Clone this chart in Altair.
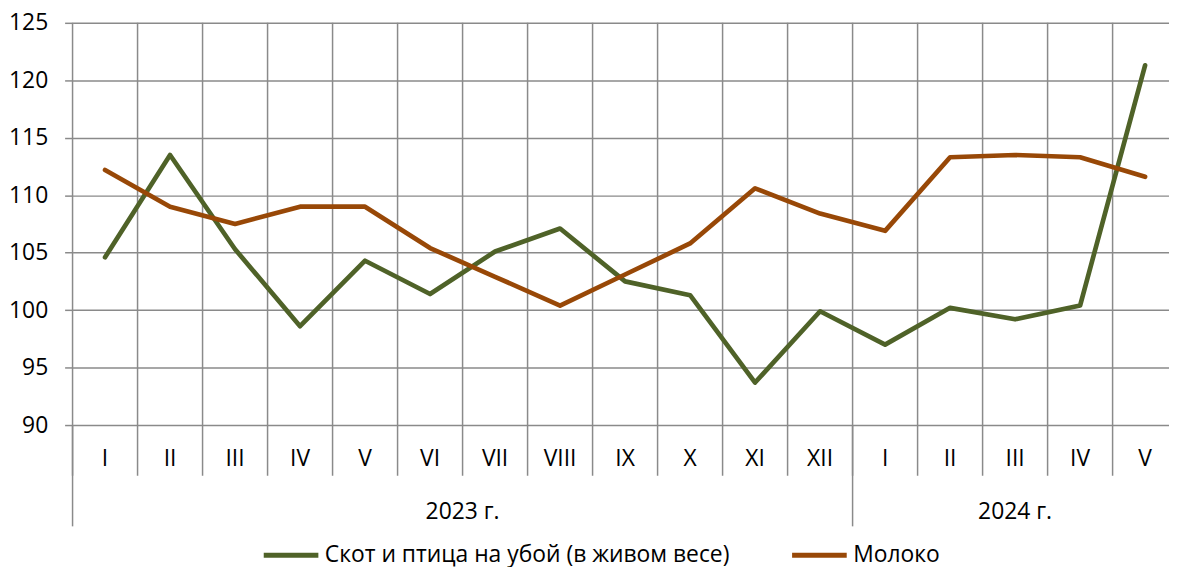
import altair as alt
import pandas as pd

months = ["I", "II", "III", "IV", "V", "VI", "VII", "VIII", "IX", "X", "XI", "XII",
          "I", "II", "III", "IV", "V"]
livestock = [104.6, 113.5, 105.3, 98.6, 104.3, 101.4, 105.1, 107.1, 102.5, 101.3,
             93.7, 99.9, 97.0, 100.2, 99.2, 100.4, 121.3]
milk = [112.2, 109.0, 107.5, 109.0, 109.0, 105.4, 102.9, 100.4, 103.1, 105.8,
        110.6, 108.4, 106.9, 113.3, 113.5, 113.3, 111.6]
series_names = ["Скот и птица на убой (в живом весе)", "Молоко"]
years = ["2023 г.", "2024 г."]
year_months = [12, 5]
y_ticks = [90, 95, 100, 105, 110, 115, 120, 125]

FONT = "Open Sans"
FS = 23
GRID = "#8a8a8a"
COLORS = ["#4F6228", "#984807"]

idx = list(range(1, len(months) + 1))
rows = []
for name, vals in zip(series_names, [livestock, milk]):
    for i, m, v in zip(idx, months, vals):
        rows.append({"idx": i, "month": m, "series": name, "value": v})
df = pd.DataFrame(rows)
df_months = pd.DataFrame({"idx": idx, "month": months})
df_grid = pd.DataFrame({"x": [i + 0.5 for i in range(len(months))]})

bounds, centers = [], []
start = 0.5
for n in year_months:
    bounds.append(start)
    centers.append(start + n / 2)
    start += n
df_years = pd.DataFrame({"x": centers, "label": years})
df_bounds = pd.DataFrame({"x": bounds})

xmax = 0.5 + 1104 / 65.45
xscale = alt.Scale(domain=[0.5, xmax], nice=False, zero=False)

vgrid = alt.Chart(df_grid).mark_rule(color=GRID, strokeWidth=1.5).encode(
    x=alt.X("x:Q", scale=xscale, axis=None),
    y=alt.value(0),
    y2=alt.value(456),
)

lines = alt.Chart(df).mark_line(strokeWidth=4.7, strokeCap="round", strokeJoin="round").encode(
    x=alt.X("idx:Q", scale=xscale, axis=None),
    y=alt.Y("value:Q", scale=alt.Scale(domain=[90, 125], nice=False, zero=False),
            axis=alt.Axis(values=y_ticks, grid=True, gridColor=GRID, gridWidth=1.5,
                          gridOpacity=1, tickSize=8, tickColor=GRID, tickWidth=1.5,
                          domain=False, labelFont=FONT, labelFontSize=FS,
                          labelColor="#000000", labelPadding=17, title=None)),
    color=alt.Color("series:N",
                    scale=alt.Scale(domain=series_names, range=COLORS),
                    sort=series_names,
                    legend=alt.Legend(orient="none", legendX=190, legendY=506,
                                      direction="horizontal", title=None,
                                      symbolType="stroke", symbolSize=3025,
                                      symbolStrokeWidth=5, labelFont=FONT,
                                      labelFontSize=FS, labelColor="#000000",
                                      labelOffset=4, columnPadding=52,
                                      labelLimit=700)),
)

month_text = alt.Chart(df_months).mark_text(
    font=FONT, fontSize=FS, color="#000000", align="center", baseline="middle"
).encode(
    x=alt.X("idx:Q", scale=xscale, axis=None),
    y=alt.value(439),
    text="month:N",
)

year_rules = alt.Chart(df_bounds).mark_rule(color=GRID, strokeWidth=1.5).encode(
    x=alt.X("x:Q", scale=xscale, axis=None),
    y=alt.value(405),
    y2=alt.value(507),
)

year_text = alt.Chart(df_years).mark_text(
    font=FONT, fontSize=FS, color="#000000", align="center", baseline="middle"
).encode(
    x=alt.X("x:Q", scale=xscale, axis=None),
    y=alt.value(493),
    text="label:N",
)

chart = alt.layer(vgrid, lines, month_text, year_rules, year_text).properties(
    width=1104, height=405,
    autosize=alt.AutoSizeParams(type="none"),
    padding={"left": 65, "top": 13, "right": 0, "bottom": 141},
).configure_view(stroke=None)

chart.save("out.html", embed_options={"renderer": "svg", "actions": False})
